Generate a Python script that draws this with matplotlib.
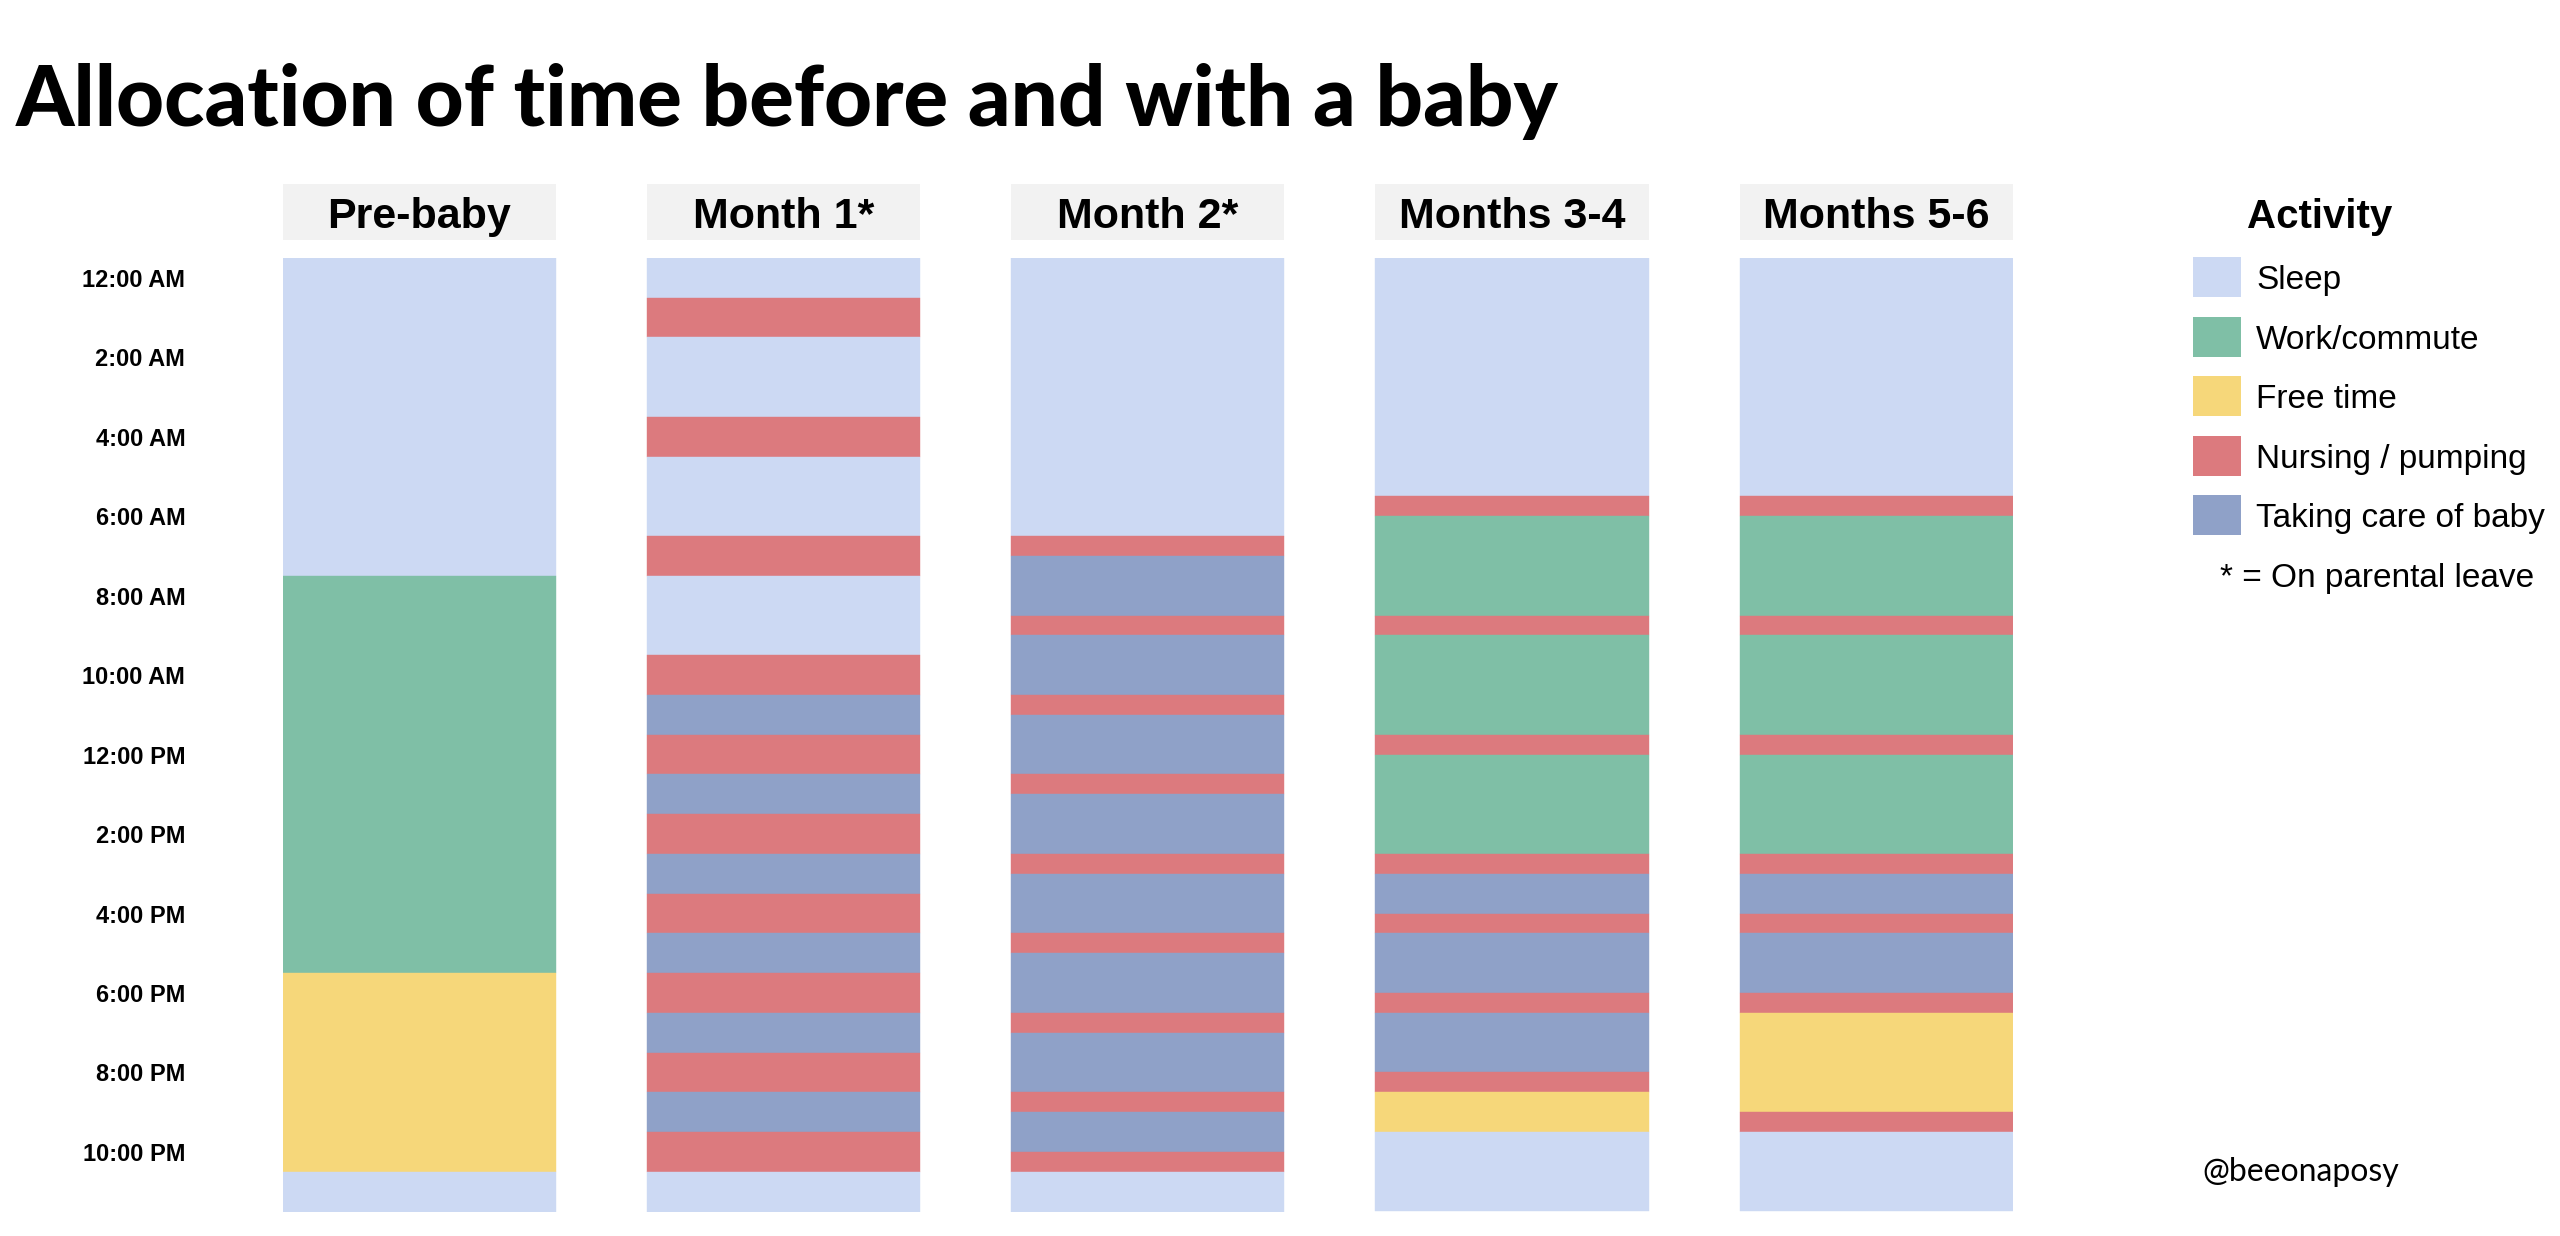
import numpy as np
import matplotlib.pyplot as plt
from matplotlib.patches import Rectangle
from matplotlib.transforms import blended_transform_factory

# activity keys, legend labels and colours
act_keys = ['sleep', 'work', 'free', 'nurse', 'baby']
act_labels = ['Sleep', 'Work/commute', 'Free time', 'Nursing / pumping', 'Taking care of baby']
act_colors = ['#ccd9f3', '#7fbfa6', '#f6d77a', '#dc7a7e', '#8fa1c8']

periods = ['Pre-baby', 'Month 1*', 'Month 2*', 'Months 3-4', 'Months 5-6']

# each column: sequence of activities and their durations (hours), from midnight
prebaby_acts = ['sleep', 'work', 'free', 'sleep']
prebaby_hours = [8, 10, 5, 1]

month1_acts = ['sleep', 'nurse', 'sleep', 'nurse', 'sleep', 'nurse', 'sleep', 'nurse',
               'baby', 'nurse', 'baby', 'nurse', 'baby', 'nurse', 'baby', 'nurse',
               'baby', 'nurse', 'baby', 'nurse', 'sleep']
month1_hours = [1, 1, 2, 1, 2, 1, 2, 1, 1, 1, 1, 1, 1, 1, 1, 1, 1, 1, 1, 1, 1]

month2_acts = ['sleep', 'nurse', 'baby', 'nurse', 'baby', 'nurse', 'baby', 'nurse',
               'baby', 'nurse', 'baby', 'nurse', 'baby', 'nurse', 'baby', 'nurse',
               'baby', 'nurse', 'sleep']
month2_hours = [7, 0.5, 1.5, 0.5, 1.5, 0.5, 1.5, 0.5, 1.5, 0.5, 1.5, 0.5, 1.5, 0.5,
                1.5, 0.5, 1, 0.5, 1]

months34_acts = ['sleep', 'nurse', 'work', 'nurse', 'work', 'nurse', 'work', 'nurse',
                 'baby', 'nurse', 'baby', 'nurse', 'baby', 'nurse', 'free', 'sleep']
months34_hours = [6, 0.5, 2.5, 0.5, 2.5, 0.5, 2.5, 0.5, 1, 0.5, 1.5, 0.5, 1.5, 0.5, 1, 2]

months56_acts = ['sleep', 'nurse', 'work', 'nurse', 'work', 'nurse', 'work', 'nurse',
                 'baby', 'nurse', 'baby', 'nurse', 'free', 'nurse', 'sleep']
months56_hours = [6, 0.5, 2.5, 0.5, 2.5, 0.5, 2.5, 0.5, 1, 0.5, 1.5, 0.5, 2.5, 0.5, 2]

columns = [(prebaby_acts, prebaby_hours), (month1_acts, month1_hours),
           (month2_acts, month2_hours), (months34_acts, months34_hours),
           (months56_acts, months56_hours)]

tick_hours = [0, 2, 4, 6, 8, 10, 12, 14, 16, 18, 20, 22]
tick_labels = ['12:00 AM', '2:00 AM', '4:00 AM', '6:00 AM', '8:00 AM', '10:00 AM',
               '12:00 PM', '2:00 PM', '4:00 PM', '6:00 PM', '8:00 PM', '10:00 PM']

color_of = dict(zip(act_keys, act_colors))

W, H = 2560, 1236
fig = plt.figure(figsize=(W / 100, H / 100), dpi=100)

# axes placed in pixel terms
left, right, top, bottom = 282.5, 2013, 258, 1211.5
ax = fig.add_axes([left / W, 1 - bottom / H, (right - left) / W, (bottom - top) / H])

bar_w = 0.75
for i, (acts, hrs) in enumerate(columns):
    hrs = np.array(hrs, dtype=float)
    starts = np.concatenate([[0], np.cumsum(hrs)[:-1]])
    ax.bar(i, hrs, bottom=starts, width=bar_w,
           color=[color_of[a] for a in acts],
           edgecolor=[color_of[a] for a in acts], linewidth=0.3)

ax.set_xlim(-bar_w / 2, len(periods) - 1 + bar_w / 2)
ax.set_ylim(24, 0)
for s in ax.spines.values():
    s.set_visible(False)
ax.set_xticks([])
ax.set_yticks(np.array(tick_hours) + 0.5)
ax.set_yticklabels(tick_labels, fontsize=17, fontweight='bold', family='Liberation Sans')
ax.tick_params(axis='y', length=0, pad=70)

# strip headers
trans = blended_transform_factory(ax.transData, fig.transFigure)
h_top, h_bot = 184.5, 240
for i, name in enumerate(periods):
    ax.add_patch(Rectangle((i - bar_w / 2, 1 - h_bot / H), bar_w, (h_bot - h_top) / H,
                           transform=trans, facecolor='#f2f2f2', edgecolor='none',
                           clip_on=False))
    ax.text(i, 1 - (h_top + h_bot) / 2 / H, name, transform=trans, ha='center',
            va='center_baseline', fontsize=31, fontweight='bold', family='Liberation Sans')

# title
fig.text(16 / W, 1 - 126 / H, 'Allocation of time before and with a baby',
         fontsize=60, fontweight='black', family='Lato', va='baseline', ha='left')

# legend, drawn by hand
fig.text(2247 / W, 1 - 213 / H, 'Activity', fontsize=29, fontweight='bold',
         family='Liberation Sans', va='center_baseline', ha='left')
for k, (lab, col) in enumerate(zip(act_labels, act_colors)):
    yc = 277 + k * 59.5
    fig.patches.append(Rectangle((2193 / W, 1 - (yc + 20) / H), 48 / W, 40 / H,
                                 transform=fig.transFigure, facecolor=col,
                                 edgecolor='none'))
    fig.text(2256 / W, 1 - yc / H, lab, fontsize=24, family='Liberation Sans',
             va='center_baseline', ha='left')
fig.text(2220 / W, 1 - 575 / H, '* = On parental leave', fontsize=24,
         family='Liberation Sans', va='center_baseline', ha='left')

fig.text(2202 / W, 1 - 1169 / H, '@beeonaposy', fontsize=23, family='Lato',
         va='center_baseline', ha='left')

fig.savefig('out.png', dpi=100)
